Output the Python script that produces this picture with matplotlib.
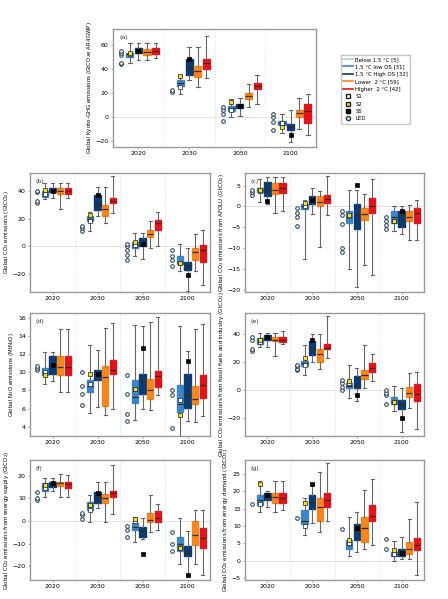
import matplotlib
matplotlib.use("Agg")
import matplotlib.pyplot as plt
from matplotlib.lines import Line2D

years = ["2020", "2030", "2050", "2100"]
cats = ["Below 1.5 °C [5]", "1.5 °C low OS [31]", "1.5 °C High OS [32]", "Lower  2 °C [59]", "Higher  2 °C [42]"]
colors = ["#b7c9dc", "#3d85c6", "#0b3b70", "#f5861f", "#e3131b"]

panels = {}
panels["a"] = dict(
    below=[[44, 45, 51, 53, 55], [21, 22], [-3, 2, 6, 8], [-11, -4, 0, 2]],
    boxes=[[(45, 50, 52, 53, 61), (47, 53, 55, 57, 61), (47, 51, 54, 56, 61), (49, 52, 55, 57, 61)],
           [(19, 26, 28, 31, 34), (31, 35, 41, 48, 58), (25, 33, 38, 42, 58), (32, 40, 45, 48, 67)],
           [(0, 5, 7, 9, 15), (1, 7, 9, 11, 16), (8, 15, 17, 20, 27), (11, 23, 26, 28, 35)],
           [(-13, -7, -5, -3, 2), (-21, -11, -8, -6, 6), (-10, 0, 3, 6, 16), (-15, -5, 5, 11, 19)]],
    s1=[52, 25, 6, -5], s2=[53, 34, 12, -8], s5=[55, 48, 9, -15],
    ylim=(-25, 73), ticks=[-20, 0, 20, 40, 60],
    ylabel="Global Kyoto-GHG emissions (GtCO$_2$e AR4GWP)")
panels["b"] = dict(
    below=[[31, 33, 39, 40], [11, 13, 15], [-10, -6, -3, 0, 2], [-14, -10, -7, -3]],
    boxes=[[(34, 36, 38, 40, 46), (35, 39, 40, 42, 46), (27, 38, 40, 42, 46), (35, 38, 40, 42, 46)],
           [(11, 18, 20, 22, 25), (22, 26, 30, 37, 43), (17, 22, 27, 30, 43), (24, 31, 33, 35, 51)],
           [(-7, -1, 1, 3, 10), (-9, 0, 2, 6, 10), (-1, 7, 9, 12, 18), (0, 12, 17, 19, 25)],
           [(-18, -13, -11, -7, 2), (-32, -17, -14, -11, -1), (-18, -10, -4, -1, 9), (-28, -11, -3, 1, 12)]],
    s1=[38, 18, 1, -12], s2=[41, 23, 3, -12], s5=[40, 37, 2, -21],
    ylim=(-33, 53), ticks=[-20, 0, 20, 40],
    ylabel="Global CO$_2$ emissions (GtCO$_2$)")
panels["c"] = dict(
    below=[[2.8, 3.5, 4], [-4.8, -2.5, -1.5, -0.5], [-11, -10, -4.3, -2, -1.2], [-5.3, -4.5, -3.5, -2.5]],
    boxes=[[(1, 3.5, 4, 4.5, 6.5), (0.5, 2.5, 4, 5.8, 7), (-1.5, 3, 4, 5.5, 7), (-1, 3.3, 4.5, 5.5, 7)],
           [(-12.5, -0.7, 0, 0.5, 1.5), (-1.7, 0.5, 1.5, 2.5, 4.3), (-9.7, 0, 1, 2.5, 3.7), (-2, 0.8, 1.8, 2.8, 7.3)],
           [(-15, -4, -2.5, -1, 4), (-19.3, -5.5, -2, 0.5, 4), (-14, -3.2, -1.8, -0.5, 3), (-16.5, -1.5, 0, 2, 6.5)],
           [(-5.8, -4, -2.5, -1, 0), (-6.7, -5, -2, -1, 0), (-8, -3.5, -2.5, -1, 0.3), (-8, -4, -1.5, -0.5, 1.5)]],
    s1=[3.8, 0, -2.2, -3.5], s2=[4, 0.7, -2, -3.5], s5=[1.3, 1.6, 5.2, -1.2],
    ylim=(-20.5, 8), ticks=[-20, -15, -10, -5, 0, 5],
    ylabel="Global CO$_2$ emissions from AFOLU (GtCO$_2$)")
panels["d"] = dict(
    below=[[10.2, 10.5, 10.7], [6.4, 7.6, 8.5, 10], [4.6, 5.4, 7.6, 9.7], [3.9, 7.5, 8]],
    boxes=[[(8.7, 9.7, 10, 10.5, 12.2), (9, 9.8, 10.7, 11.8, 12.2), (7.8, 9.7, 10.6, 11.8, 14.7), (7.8, 9.7, 10.6, 11.8, 14.7)],
           [(5.5, 7.8, 8.5, 9.2, 13), (6.2, 9.1, 9.7, 10.2, 12.4), (5.3, 6.3, 9.5, 10.7, 14.8), (6, 9.8, 10.2, 11.3, 15.4)],
           [(4.8, 6.6, 7.3, 9.2, 15.2), (6, 7.6, 9, 9.8, 15.1), (5.8, 7.1, 8.1, 9.3, 15.5), (7.5, 8.4, 9.6, 10.1, 16.1)],
           [(3, 5.6, 6.5, 8.6, 15.1), (4.6, 6.1, 7.5, 9.8, 12.3), (4.5, 6.5, 7.1, 8.5, 14.7), (5.2, 7.2, 8.6, 9.7, 15.3)]],
    s1=[10, 8.7, 8.2, 7], s2=[9.7, 9.8, 8.2, 5.3], s5=[10.8, 9.8, 12.7, 11.2],
    ylim=(3, 16.5), ticks=[4, 6, 8, 10, 12, 14, 16],
    ylabel="Global N$_2$O emissions (MtN$_2$O)")
panels["e"] = dict(
    below=[[28, 29, 36, 38], [14, 15, 17, 18], [0, 2, 5, 7], [-10, -4, -2, 0]],
    boxes=[[(31, 33, 35, 37, 41), (31, 36, 37, 39, 41), (24, 35, 36, 38, 41), (33, 34, 36, 38, 42)],
           [(11, 17, 19, 21, 32), (20, 25, 30, 35, 40), (15, 20, 26, 29, 40), (23, 29, 30, 33, 53)],
           [(-6, 1, 3, 5, 18), (-8, 1, 4, 10, 16), (1, 8, 11, 14, 32), (6, 13, 16, 19, 26)],
           [(-15, -10, -9, -5, 3), (-30, -14, -10, -7, 1), (-13, -5, -2, 2, 12), (-28, -8, -3, 4, 13)]],
    s1=[34, 18, 5, -9], s2=[36, 23, 6, -9], s5=[38, 36, -4, -20],
    ylim=(-33, 55), ticks=[-20, 0, 20, 40],
    ylabel="Global CO$_2$ emissions from fossil fuels and industry (GtCO$_2$)")
panels["f"] = dict(
    below=[[9.5, 10, 13], [1, 2.5, 3.5], [-7, -4, -2], [-13, -10, -5]],
    boxes=[[(10.5, 13.5, 15.5, 17, 19), (13.5, 15, 16.5, 17.5, 19), (10.5, 15.5, 17, 17.5, 21), (10.5, 14.5, 16.5, 17.5, 20.5)],
           [(-0.5, 5, 6.5, 8.5, 11.5), (6, 8, 10.5, 13, 17.5), (-0.5, 8, 10, 12, 17.5), (3, 10.5, 12.5, 13.5, 25)],
           [(-9, -4, -2.5, -1, 2), (-8, -7, -4.5, -2.5, 1.5), (-5, -0.5, 0.5, 3.5, 11.5), (-4, -0.5, 1.5, 4.5, 7.5)],
           [(-19, -13, -10, -7, 1.5), (-24, -15.5, -14, -11, -4.5), (-19, -10.5, -6, 0, 5), (-24, -12, -7.5, -3, 5)]],
    s1=[14.5, 5, 0, -12], s2=[16, 7, 1, -12], s5=[17, 12.5, -14.5, -24],
    ylim=(-26, 27), ticks=[-20, -10, 0, 10, 20],
    ylabel="Global CO$_2$ emissions from energy supply (GtCO$_2$)")
panels["g"] = dict(
    below=[[16.3], [12.2], [9.2], [3.5, 6.3]],
    boxes=[[(14, 16, 17.5, 19, 23), (15.5, 17.5, 18.5, 19.5, 20), (14, 16.5, 18.5, 19.5, 23), (14.5, 16.5, 18, 19.5, 23)],
           [(7.5, 10.5, 11.5, 14.5, 18), (11, 15, 17, 19, 22.5), (8.3, 11.5, 15.5, 18, 25.5), (11.5, 15.5, 17.5, 19.5, 28)],
           [(1.5, 3.5, 4.5, 6, 12.5), (2.5, 6, 8.5, 10.5, 14), (3.5, 5.5, 9.5, 12.5, 20.5), (4.5, 11.5, 13, 16, 23.5)],
           [(0, 1.3, 1.8, 2.5, 5.8), (0.5, 1.5, 2.5, 3.5, 6.8), (0.5, 2, 3.5, 5.5, 12), (-4, 3, 4.5, 6.5, 17)]],
    s1=[16.3, 10, 5, 2], s2=[22, 16.5, 6, 3], s5=[19, 22, 9.5, 2.3],
    ylim=(-5.5, 29), ticks=[-5, 0, 5, 10, 15, 20, 25],
    ylabel="Global CO$_2$ emissions from energy demand (GtCO$_2$)")

W, H = 448, 599
def rect(x0, y0, x1, y1):
    return [x0 / W, 1 - y1 / H, (x1 - x0) / W, (y1 - y0) / H]

axes_pos = {"a": rect(113, 29, 316, 147),
            "b": rect(30, 173, 210, 292), "c": rect(245, 173, 424, 292),
            "d": rect(30, 313, 210, 436), "e": rect(245, 313, 424, 436),
            "f": rect(30, 460, 210, 580), "g": rect(245, 460, 424, 580)}

fig = plt.figure(figsize=(4.48, 5.99), dpi=100)
offs = [-0.34, -0.17, 0.0, 0.17, 0.34]
bw = 0.14
for key, p in panels.items():
    ax = fig.add_axes(axes_pos[key])
    for g in range(4):
        stats = []
        for ci in range(4):
            lo, q1, md, q3, hi = p["boxes"][g][ci]
            stats.append(dict(whislo=lo, q1=q1, med=md, q3=q3, whishi=hi, fliers=[]))
        pos = [g + o for o in offs[1:]]
        bp = ax.bxp(stats, positions=pos, widths=bw, patch_artist=True,
                    showfliers=False, manage_ticks=False,
                    whiskerprops=dict(color="#666666", lw=0.8),
                    capprops=dict(color="#666666", lw=0.8),
                    medianprops=dict(color="#3a2a1a", lw=0.9))
        for patch, c in zip(bp["boxes"], colors[1:]):
            patch.set_facecolor(c)
            patch.set_edgecolor(c)
        bx = g + offs[0]
        ax.plot([bx] * len(p["below"][g]), p["below"][g], "o", ms=2.6,
                mfc="white", mec="#1f3550", mew=0.7, zorder=5)
        ax.plot(g + offs[1], p["s1"][g], "s", ms=2.6, mfc="white", mec="#222222", mew=0.5, zorder=6)
        ax.plot(g + offs[1], p["s2"][g], "s", ms=2.6, mfc="#f0e020", mec="#222222", mew=0.5, zorder=6)
        ax.plot(g + offs[2], p["s5"][g], "s", ms=2.6, mfc="black", mec="black", mew=0.5, zorder=6)
    for g in range(3):
        ax.axvline(g + 0.5, color="#dddddd", lw=0.5, ls=(0, (2, 2)), zorder=0)
    ax.axhline(0, color="#dddddd", lw=0.6, zorder=0)
    ax.set_xlim(-0.5, 3.5)
    ax.set_ylim(*p["ylim"])
    ax.set_yticks(p["ticks"])
    ax.set_xticks(range(4))
    ax.set_xticklabels(years)
    ax.tick_params(labelsize=4.5, length=1.5, width=0.5, color="#888888", pad=1.5)
    for s in ax.spines.values():
        s.set_color("#999999")
        s.set_linewidth(1.0)
    ax.set_ylabel(p["ylabel"], fontsize=4, labelpad=1.5)
    ax.text(0.03, 0.95, f"({key})", transform=ax.transAxes, fontsize=4.5, va="top", color="#333333")

handles = [Line2D([], [], color=c, lw=1.2) for c in colors]
handles += [Line2D([], [], marker="s", ls="", mfc="white", mec="#222222", ms=3),
            Line2D([], [], marker="s", ls="", mfc="#f0e020", mec="#222222", ms=3),
            Line2D([], [], marker="s", ls="", mfc="black", mec="black", ms=3),
            Line2D([], [], marker="o", ls="", mfc="white", mec="#1f3550", ms=3)]
labels = cats + ["S1", "S2", "S5", "LED"]
fig.legend(handles, labels, loc="upper left", bbox_to_anchor=(338 / W, 1 - 52 / H),
           fontsize=3.9, frameon=True, edgecolor="#bbbbbb", fancybox=False,
           handlelength=1.8, handletextpad=0.5, labelspacing=0.45, borderpad=0.4)

fig.savefig("out.png", dpi=100, facecolor="white")
